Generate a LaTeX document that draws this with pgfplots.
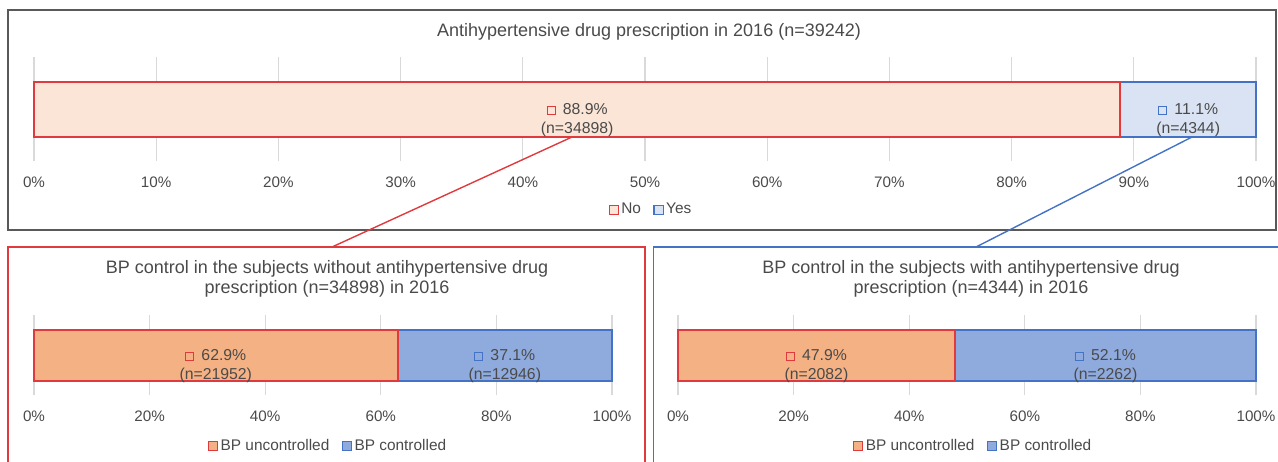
\documentclass[border=0pt]{standalone}
\usepackage{fontspec}
\setmainfont{Liberation Sans}
\usepackage{pgfplots}
\pgfplotsset{compat=1.18}

\definecolor{txt}{HTML}{4A4A4A}
\definecolor{frame}{HTML}{595959}
\definecolor{gridc}{HTML}{D9D9D9}
\definecolor{redl}{HTML}{E03A3E}
\definecolor{bluel}{HTML}{4472C4}
\definecolor{peach}{HTML}{FBE5D6}
\definecolor{lblue}{HTML}{DAE3F3}
\definecolor{orng}{HTML}{F4B183}
\definecolor{mblue}{HTML}{8FAADC}

% little square key in front of the data labels
\newcommand{\mk}[2]{{\setlength{\fboxrule}{0.55pt}\setlength{\fboxsep}{0pt}%
  \raisebox{0.2pt}{\fcolorbox{#1}{#2}{\rule{0pt}{3.4pt}\rule{3.4pt}{0pt}}}}\hspace{3.6pt}}

\pgfplotsset{
  panel/.style={
    scale only axis, xbar stacked,
    xmin=0, xmax=100, ymin=-1, ymax=1, ytick=\empty,
    axis line style={draw=none}, major tick length=0pt,
    xmajorgrids, grid style={draw=gridc, line width=0.6pt},
    tick label style={font=\fontsize{7.6}{9}\selectfont, text=txt},
    xticklabel style={anchor=center, inner sep=0pt, yshift=-10.8pt},
    legend style={draw=none, fill=none, legend columns=-1, anchor=center,
      font=\fontsize{7.7}{9}\selectfont, text=txt,
      nodes={inner xsep=1.2pt, inner ysep=0pt},
      /tikz/every even column/.append style={column sep=5pt}},
    legend image code/.code={\draw[##1, line width=0.6pt] (0pt,-2.3pt) rectangle (4.6pt,2.3pt);},
    clip=false,
  },
}
\tikzset{lab/.style={align=center, text=txt, font=\fontsize{7.9}{9.6}\selectfont, yshift=-5.4pt}}

\begin{document}
\begin{tikzpicture}
\begin{scope}[x=0.5pt, y=-0.5pt]
  \path[use as bounding box] (0,0) rectangle (1278,461);
  \begin{scope}
    \clip (0,0) rectangle (1278,461);
    \draw[frame, line width=0.7pt] (8,10) rectangle (1276,230);
    \draw[redl, line width=0.7pt] (8,247) rectangle (645,480);
    \draw[bluel, line width=0.7pt] (653.5,247) rectangle (1300,480);
  \end{scope}
  \node[text=txt, font=\fontsize{9}{10}\selectfont] at (649,32)
    {Antihypertensive drug prescription in 2016 (n=39242)};
  \node[text=txt, font=\fontsize{9}{10}\selectfont, align=center] at (327,279)
    {BP control in the subjects without antihypertensive drug\\prescription (n=34898) in 2016};
  \node[text=txt, font=\fontsize{9}{10}\selectfont, align=center] at (971,279)
    {BP control in the subjects with antihypertensive drug\\prescription (n=4344) in 2016};
  \coordinate (topSW) at (34,161);
  \coordinate (blSW) at (34,395);
  \coordinate (brSW) at (678,395);
  \coordinate (r1) at (572,137);
  \coordinate (r2) at (332,247);
  \coordinate (b1) at (1192,137);
  \coordinate (b2) at (976,247);
\end{scope}

% top panel
\begin{axis}[panel, at={(topSW)}, anchor=south west,
  width=611pt, height=52pt, bar width=27.5pt,
  xtick={0,10,...,100},
  xticklabels={0\%,10\%,20\%,30\%,40\%,50\%,60\%,70\%,80\%,90\%,100\%},
  legend style={at={(0.505,-0.471)}},
]
  \addplot[fill=peach, draw=redl, line width=1pt] coordinates {(88.9,0)};
  \addplot[fill=lblue, draw=bluel, line width=1pt] coordinates {(11.1,0)};
  \legend{No, Yes}
  \coordinate (t1) at (axis cs:44.45,0);
  \coordinate (t2) at (axis cs:94.45,0);
\end{axis}

% bottom left panel
\begin{axis}[panel, at={(blSW)}, anchor=south west,
  width=289pt, height=40pt, bar width=25.5pt,
  xtick={0,20,...,100},
  xticklabels={0\%,20\%,40\%,60\%,80\%,100\%},
  legend style={at={(0.509,-0.6375)}},
]
  \addplot[fill=orng, draw=redl, line width=1pt] coordinates {(62.9,0)};
  \addplot[fill=mblue, draw=bluel, line width=1pt] coordinates {(37.1,0)};
  \legend{BP uncontrolled, BP controlled}
  \coordinate (l1) at (axis cs:31.45,0);
  \coordinate (l2) at (axis cs:81.45,0);
\end{axis}

% bottom right panel
\begin{axis}[panel, at={(brSW)}, anchor=south west,
  width=289pt, height=40pt, bar width=25.5pt,
  xtick={0,20,...,100},
  xticklabels={0\%,20\%,40\%,60\%,80\%,100\%},
  legend style={at={(0.511,-0.6375)}},
]
  \addplot[fill=orng, draw=redl, line width=1pt] coordinates {(47.9,0)};
  \addplot[fill=mblue, draw=bluel, line width=1pt] coordinates {(52.1,0)};
  \legend{BP uncontrolled, BP controlled}
  \coordinate (q1) at (axis cs:23.95,0);
  \coordinate (q2) at (axis cs:73.95,0);
\end{axis}

% data labels
\node[lab] at (t1) {\mk{redl}{peach}88.9\%\\(n=34898)};
\node[lab] at (t2) {\mk{bluel}{lblue}11.1\%\\(n=4344)};
\node[lab] at (l1) {\mk{redl}{orng}62.9\%\\(n=21952)};
\node[lab] at (l2) {\mk{bluel}{mblue}37.1\%\\(n=12946)};
\node[lab] at (q1) {\mk{redl}{orng}47.9\%\\(n=2082)};
\node[lab] at (q2) {\mk{bluel}{mblue}52.1\%\\(n=2262)};

\draw[redl, line width=0.7pt] (r1) -- (r2);
\draw[bluel, line width=0.7pt] (b1) -- (b2);
\end{tikzpicture}
\end{document}
